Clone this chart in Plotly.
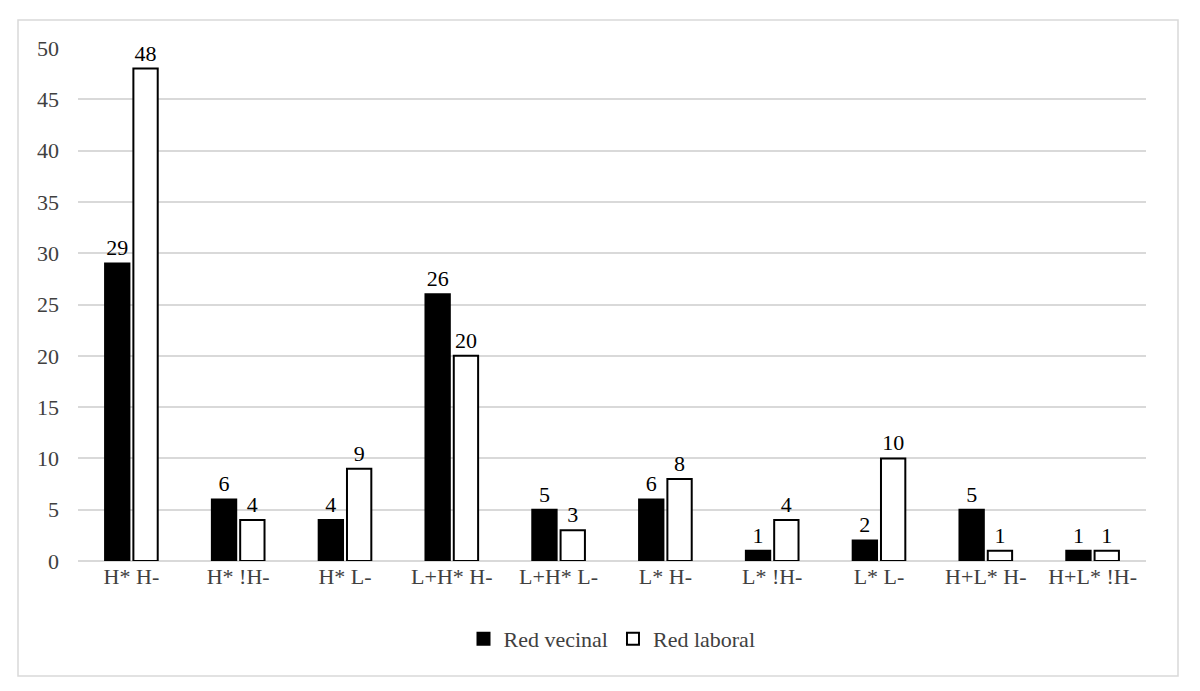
import plotly.graph_objects as go

categories = ["H* H-", "H* !H-", "H* L-", "L+H* H-", "L+H* L-", "L* H-", "L* !H-", "L* L-", "H+L* H-", "H+L* !H-"]
red_vecinal = [29, 6, 4, 26, 5, 6, 1, 2, 5, 1]
red_laboral = [48, 4, 9, 20, 3, 8, 4, 10, 1, 1]
y_ticks = [0, 5, 10, 15, 20, 25, 30, 35, 40, 45, 50]

font_family = "Liberation Serif, Times New Roman, serif"

fig = go.Figure()
fig.add_trace(go.Bar(
    name="Red vecinal", x=categories, y=red_vecinal,
    marker=dict(color="black", line=dict(color="black", width=2)),
    text=red_vecinal, textposition="outside", cliponaxis=False,
    textfont=dict(family=font_family, size=22, color="#000000"),
))
fig.add_trace(go.Bar(
    name="Red laboral", x=categories, y=red_laboral,
    marker=dict(color="white", line=dict(color="black", width=2)),
    text=red_laboral, textposition="outside", cliponaxis=False,
    textfont=dict(family=font_family, size=22, color="#000000"),
))

fig.update_layout(
    width=1200, height=691,
    paper_bgcolor="white", plot_bgcolor="white",
    margin=dict(l=78, r=54, t=48, b=130),
    barmode="group", bargap=0.47, bargroupgap=0.14,
    font=dict(family=font_family, size=22, color="#404040"),
    showlegend=True,
    legend=dict(orientation="h", x=0.5, xanchor="center", y=-0.152, yanchor="middle",
                font=dict(family=font_family, size=22, color="#404040"),
                itemwidth=30, traceorder="normal"),
    xaxis=dict(showgrid=False, showline=False, ticks="", tickfont=dict(size=22, color="#404040")),
    yaxis=dict(range=[0, 50], tickvals=y_ticks, showgrid=True, gridcolor="#d9d9d9", gridwidth=2,
               zeroline=True, zerolinecolor="#d9d9d9", zerolinewidth=2, showline=False, ticks="",
               ticklabelstandoff=18,
               tickfont=dict(size=22, color="#404040")),
    shapes=[dict(type="rect", xref="paper", yref="paper",
                 x0=(18 - 78) / 1068, x1=(1178 - 78) / 1068,
                 y0=(561 - 676) / 513, y1=(561 - 20) / 513,
                 line=dict(color="#d9d9d9", width=1.5), fillcolor="rgba(0,0,0,0)", layer="below")],
)

fig.write_html("out.html", config={"displayModeBar": False},
               post_script="document.body.style.margin='0';")
